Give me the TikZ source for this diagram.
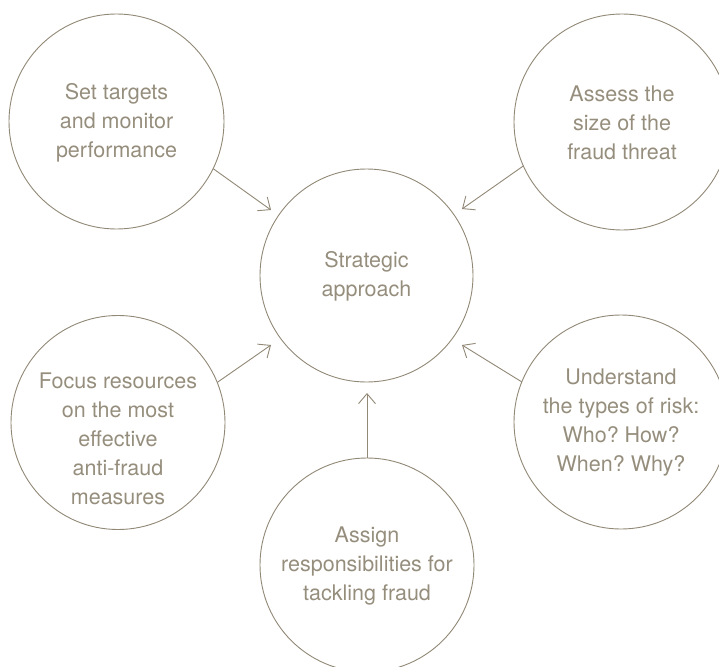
\documentclass[tikz,border=0pt]{standalone}
\usepackage{fontspec}
\setmainfont{TeX Gyre Heros}
\usetikzlibrary{arrows.meta,calc}
\definecolor{linec}{RGB}{145,136,118}
\definecolor{textc}{RGB}{150,142,125}
\frenchspacing
\begin{document}
\begin{tikzpicture}[x=1pt,y=1pt,
  ring/.style={circle,draw=linec,line width=0.9pt,minimum size=#1,inner sep=0pt,outer sep=0pt},
  lbl/.style={text=textc,align=center,font=\fontsize{21.5}{29}\selectfont\frenchspacing,inner sep=0pt},
  conn/.style={draw=linec,line width=0.9pt,-{Straight Barb[length=10pt,width=17pt,line width=0.9pt]}}]
\useasboundingbox (0,0) rectangle (719,-666);
\clip (0,0) rectangle (719,-666);
% circles
\node[ring=213pt] (c)  at (366.5,-275.5) {};
\node[ring=215pt] (tl) at (116.5,-121.5) {};
\node[ring=216pt] (tr) at (622,-122) {};
\node[ring=214pt] (bl) at (118,-422.5) {};
\node[ring=214pt] (br) at (621,-422) {};
\node[ring=214pt] (b)  at (367,-565) {};
% texts
\node[lbl] (ct)  at ($(c)+(0,-1)$) {Strategic\\approach};
\node[lbl] (tlt) at ($(tl)+(0,-1)$) {Set targets\\and monitor\\performance};
\node[lbl] (trt) at ($(tr)+(0,-1)$) {Assess the\\size of the\\fraud threat};
\node[lbl] (blt) at ($(bl)+(0,-16)$) {Focus resources\\on the most\\effective\\anti-fraud\\measures};
\node[lbl] (brt) at ($(br)+(0,-1)$) {Understand\\the types of risk:\\Who? How?\\When? Why?};
\node[lbl] (bt)  at ($(b)+(0,-1)$) {Assign\\responsibilities for\\tackling fraud};
% arrow tips
\coordinate (tltip) at (271,-210);
\coordinate (trtip) at (462,-209);
\coordinate (bltip) at (271,-345);
\coordinate (brtip) at (462,-345);
\coordinate (btip)  at (367,-393);
% connectors
\draw[conn] (tl.-26.4) -- (tltip);
\draw[conn] (tr.204.9) -- (trtip);
\draw[conn] (bl.22.7) -- (bltip);
\draw[conn] (br.158.7) -- (brtip);
\draw[conn] (b.north) -- (btip);
\end{tikzpicture}
\end{document}
